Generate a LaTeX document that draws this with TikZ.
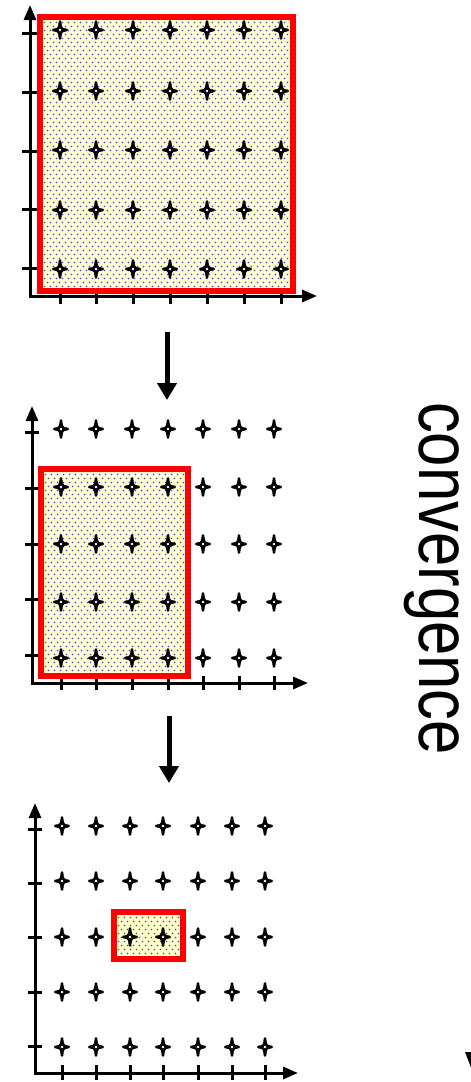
\documentclass[tikz,border=0pt]{standalone}
\usepackage{fontspec}
\usepackage{graphicx}
\newfontfamily\labelfont{Liberation Sans}
\usetikzlibrary{arrows.meta}
\definecolor{boxred}{RGB}{255,0,0}
\definecolor{boxyel}{RGB}{255,255,204}
\definecolor{dotblue}{RGB}{70,70,220}
\tikzset{
  axisline/.style={line width=3pt, line join=miter, {Triangle[width=12pt,length=15pt]}-{Triangle[width=12pt,length=15pt]}},
  tickline/.style={line width=3pt},
  redframe/.style={draw=boxred, line width=6pt},
  bigarrow/.style={line width=5pt, -{Triangle[width=19pt,length=17pt]}},
  starline/.style={draw=black, fill=white, line width=2.6pt, line join=round},
  astar/.pic={\path[starline] (0,-8.5) .. controls (0.9,-0.9) .. (6.8,0) .. controls (0.9,0.9) .. (0,8.5) .. controls (-0.9,0.9) .. (-6.8,0) .. controls (-0.9,-0.9) .. cycle;}
}
\newcommand{\mydotfill}[4]{%
  \fill[boxyel] (#1,#2) rectangle (#3,#4);
  \begin{scope}
    \clip (#1,#2) rectangle (#3,#4);
    \pgfmathtruncatemacro{\nrows}{(#4-#2)/4+1}
    \pgfmathtruncatemacro{\ncols}{(#3-#1)/6+1}
    \foreach \ri in {0,...,\nrows}{
      \pgfmathsetmacro{\yy}{#2+2+\ri*4}
      \pgfmathsetmacro{\xo}{#1+2+mod(\ri,2)*3}
      \foreach \ci in {0,...,\ncols}{
        \fill[dotblue] (\xo+\ci*6,\yy) circle[radius=0.8];
      }
    }
  \end{scope}}
\begin{document}
\begin{tikzpicture}[x=1pt,y=-1pt]
\useasboundingbox (0,0) rectangle (471,1082);

% ---------- panel 1 ----------
\draw[axisline] (30,5) -- (30,296) -- (317,296);
\foreach \ty in {33,92,151,209,268} \draw[tickline] (22,\ty) -- (37,\ty);
\foreach \tx in {60,96,133,170,207,244,281} \draw[tickline] (\tx,288) -- (\tx,304);
\mydotfill{39.5}{16.5}{292.5}{290.5}
\draw[redframe] (39.5,16.5) rectangle (292.5,290.5);
\foreach \sx in {60,96,133,170,207,244,281}
  \foreach \sy in {30,91,150,210,269}
    \pic at (\sx,\sy) {astar};

% arrow 1
\coordinate (a1s) at (167,332);
\coordinate (a1e) at (167,400);
\draw[bigarrow] (a1s) -- (a1e);

% ---------- panel 2 ----------
\draw[axisline] (32,406) -- (32,683) -- (308,683);
\foreach \ty in {432,488,544,599,655} \draw[tickline] (25,\ty) -- (39,\ty);
\foreach \tx in {61,96,132,168,203,239,274} \draw[tickline] (\tx,676) -- (\tx,690);
\mydotfill{40.5}{468.5}{187.5}{675.5}
\draw[redframe] (40.5,468.5) rectangle (187.5,675.5);
\foreach \sx in {61,96,132,168,203,239,274}
  \foreach \sy in {429,487,544,602,658}
    \pic at (\sx,\sy) {astar};

% arrow 2
\coordinate (a2s) at (169,716);
\coordinate (a2e) at (169,783);
\draw[bigarrow] (a2s) -- (a2e);

% ---------- panel 3 ----------
\draw[axisline] (35,803) -- (35,1073) -- (298,1073);
\foreach \ty in {829,883,937,992,1046} \draw[tickline] (28,\ty) -- (42,\ty);
\foreach \tx in {62,96,130,163,198,232,265} \draw[tickline] (\tx,1065) -- (\tx,1080);
\mydotfill{113.5}{911.5}{182.5}{958.5}
\draw[redframe] (113.5,911.5) rectangle (182.5,958.5);
\foreach \sx in {62,96,130,163,198,232,265}
  \foreach \sy in {826,881,937,992,1047}
    \pic at (\sx,\sy) {astar};

% ---------- label ----------
\node[rotate=-90, anchor=base, inner sep=0pt] (conv) at (419,578.5)
  {\scalebox{0.833}[1]{\labelfont\fontsize{74}{74}\selectfont convergence}};

% partly visible arrow head at the lower right
\fill (465,1052) -- (480,1052) -- (472,1070) -- cycle;
\end{tikzpicture}
\end{document}
